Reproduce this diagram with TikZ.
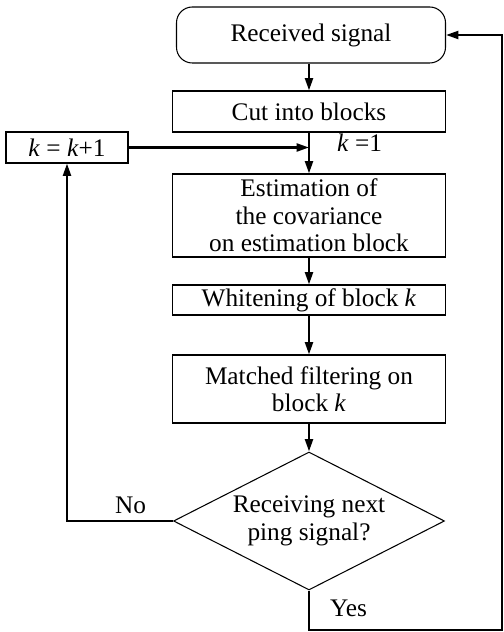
\documentclass[tikz,border=0pt]{standalone}
\usepackage{fontspec}
\setmainfont{Liberation Serif}
\usepackage{tikz}
\usetikzlibrary{positioning,arrows.meta,shapes.geometric}

\begin{document}
\begin{tikzpicture}[
  every node/.style={font=\fontsize{14.4}{15.6}\selectfont},
  box/.style={rectangle, draw, line width=0.6pt, minimum width=5.46cm,
              inner sep=0pt, align=center},
  dec/.style={diamond, aspect=1.96, draw, line width=0.6pt, minimum width=5.42cm,
              minimum height=2.76cm, inner sep=0pt, align=center},
  arr/.style={-{Triangle[length=7pt,width=4.5pt]}, line width=1.3pt},
  flow/.style={line width=1.3pt}
]
  \useasboundingbox (0,0) rectangle (10.06,12.64);

  \node[box, rounded corners=9pt, minimum width=5.38cm, minimum height=1.12cm]
    (recv) at (6.22,11.94) {Received signal};
  \node[box, minimum height=0.82cm] (cut)   at (6.18,10.41) {Cut into blocks};
  \node[box, minimum width=2.44cm, minimum height=0.62cm]
    (kinc) at (1.34,9.69) {\textit{k} = \textit{k}+1};
  \node[box, minimum height=1.66cm] (est)   at (6.18,8.33)
    {Estimation of\\the covariance\\on estimation block};
  \node[box, minimum height=0.60cm] (white) at (6.18,6.64) {Whitening of block \textit{k}};
  \node[box, minimum height=1.36cm] (match) at (6.18,4.86)
    {Matched filtering on\\block \textit{k}};
  \node[dec] (next) at (6.18,2.22) {Receiving next\\ping signal?};

  \coordinate (ybot)  at (6.18,0.04);
  \coordinate (yrght) at (10.04,0.04);

  \draw[arr] (cut.north |- recv.south) -- (cut.north);
  \draw[arr] (cut) -- (est);
  \draw[arr] (est) -- (white);
  \draw[arr] (white) -- (match);
  \draw[arr] (match) -- (next);

  \draw[arr] (kinc.east) -- (kinc.east -| cut.south)
    node[pos=1, right=12pt, yshift=3pt] (kone) {\textit{k} =1};

  \draw[arr] (next.west) -- node[above, pos=0.4] (nolbl) {No} (next.west -| kinc.south)
    -- (kinc.south);
  \draw[arr] (next.south) -- node[right=8pt, pos=0.45] (yeslbl) {Yes} (ybot)
    -- (yrght) |- (recv.east);
\end{tikzpicture}
\end{document}
